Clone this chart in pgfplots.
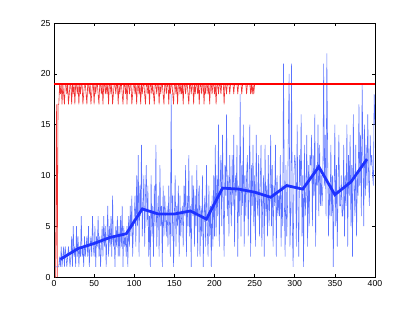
\documentclass[border=0pt]{standalone}
\usepackage{fontspec}
\setmainfont{Liberation Sans}
\usepackage{pgfplots}
\usepackage{pgfplotstable}
\pgfplotsset{compat=1.18}

% raw signal, one value per step (x = 1..400)
\pgfplotstableread[row sep=\\]{
y\\
1\\1\\1\\1\\1\\1\\2\\1\\3\\1\\2\\3\\1\\3\\2\\1\\2\\3\\2\\1\\
2\\4\\1\\5\\2\\3\\1\\5\\2\\4\\1\\3\\2\\6\\2\\3\\1\\4\\2\\3\\
4\\2\\5\\1\\3\\4\\2\\6\\3\\2\\5\\1\\4\\3\\6\\2\\4\\1\\3\\5\\
2\\6\\3\\5\\1\\4\\7\\2\\5\\3\\6\\2\\8\\3\\4\\1\\5\\3\\6\\2\\
5\\2\\6\\3\\7\\1\\5\\3\\4\\2\\5\\1\\6\\3\\7\\4\\8\\2\\5\\6\\
8\\3\\10\\5\\12\\2\\9\\6\\13\\4\\7\\10\\3\\8\\11\\5\\9\\2\\6\\1\\
10\\4\\7\\2\\9\\5\\13\\3\\6\\8\\2\\11\\5\\7\\1\\9\\4\\8\\6\\4\\
7\\3\\9\\5\\2\\18\\4\\8\\1\\6\\10\\3\\7\\5\\9\\2\\8\\4\\6\\7\\
3\\9\\6\\11\\2\\8\\5\\12\\4\\7\\1\\10\\6\\9\\3\\8\\5\\11\\2\\8\\
9\\2\\7\\4\\10\\1\\6\\8\\3\\11\\5\\2\\9\\4\\7\\1\\8\\3\\10\\4\\
13\\4\\10\\6\\15\\3\\9\\12\\5\\14\\7\\2\\11\\8\\16\\6\\10\\4\\12\\8\\
5\\12\\7\\14\\3\\10\\8\\13\\2\\9\\6\\18\\4\\11\\7\\15\\3\\10\\6\\10\\
12\\4\\9\\15\\2\\11\\7\\13\\5\\10\\3\\14\\8\\6\\12\\4\\9\\13\\3\\7\\
10\\2\\13\\6\\9\\4\\12\\5\\8\\14\\5\\11\\3\\9\\7\\13\\2\\10\\6\\8\\
6\\12\\3\\9\\5\\21\\8\\2\\11\\4\\7\\14\\20\\3\\6\\21\\5\\1\\10\\12\\
11\\3\\15\\7\\2\\12\\9\\16\\4\\10\\1\\13\\6\\8\\14\\3\\11\\5\\12\\11\\
14\\5\\12\\8\\16\\3\\11\\9\\15\\6\\13\\7\\10\\7\\9\\21\\9\\14\\6\\22\\
12\\4\\9\\6\\13\\6\\10\\1\\8\\15\\5\\11\\3\\9\\14\\7\\7\\10\\6\\6\\
13\\4\\10\\7\\15\\3\\12\\8\\14\\5\\11\\2\\16\\9\\6\\13\\4\\10\\8\\17\\
9\\14\\6\\19\\12\\5\\15\\8\\13\\9\\16\\10\\7\\14\\11\\12\\10\\9\\18\\15\\
}\bluedata

% second signal, x = 1..250
\pgfplotstableread[row sep=\\]{
y\\
0\\0\\17\\0\\17\\17\\
19\\18\\19\\17\\19\\18\\17\\19\\19\\18\\19\\17\\18\\19\\19\\17\\19\\18\\19\\17\\
19\\19\\18\\19\\17\\19\\18\\19\\19\\17\\18\\19\\19\\18\\17\\19\\19\\18\\19\\17\\
18\\19\\19\\17\\19\\18\\19\\19\\18\\17\\19\\19\\18\\19\\17\\19\\19\\18\\19\\18\\
19\\17\\19\\19\\18\\19\\17\\18\\19\\19\\18\\19\\19\\17\\19\\18\\19\\19\\18\\17\\
19\\19\\18\\19\\17\\19\\19\\18\\19\\19\\17\\18\\19\\19\\18\\19\\17\\19\\19\\18\\
19\\17\\19\\18\\19\\19\\18\\17\\19\\19\\18\\19\\17\\19\\19\\18\\19\\18\\17\\19\\
19\\18\\19\\19\\17\\19\\18\\19\\19\\18\\17\\19\\19\\18\\19\\19\\17\\19\\18\\19\\
19\\18\\17\\19\\19\\18\\19\\17\\19\\19\\18\\19\\18\\19\\17\\19\\19\\18\\19\\19\\
18\\17\\19\\19\\18\\19\\19\\17\\19\\18\\19\\19\\18\\19\\17\\19\\19\\18\\19\\19\\
17\\19\\18\\19\\19\\18\\19\\17\\19\\19\\18\\19\\19\\18\\19\\17\\19\\19\\18\\19\\
19\\18\\19\\19\\19\\17\\19\\19\\18\\19\\19\\19\\18\\19\\19\\19\\19\\18\\19\\19\\
19\\19\\18\\19\\19\\19\\19\\18\\19\\19\\19\\19\\19\\18\\19\\19\\19\\19\\18\\19\\
18\\19\\18\\19\\
}\reddata

\definecolor{thinblue}{RGB}{90,115,255}
\definecolor{thinred}{RGB}{240,50,50}
\definecolor{thickblue}{RGB}{30,50,255}

\begin{document}
\begin{tikzpicture}
\path[use as bounding box] (0,0) rectangle (4.15in,3.13in);
\begin{axis}[
  at={(0.54in,0.36in)}, anchor=south west,
  scale only axis, width=3.21in, height=2.54in,
  xmin=0, xmax=400, ymin=0, ymax=25,
  xtick={0,50,...,400}, ytick={0,5,...,25},
  xtick pos=both, ytick pos=both, tick align=inside,
  major tick length=2.5pt,
  tick style={black, line width=0.4pt},
  axis line style={line width=0.5pt},
  tick label style={font=\fontsize{6.3}{7}\selectfont},
  /pgf/number format/assume math mode=true,
  xticklabel style={yshift=1pt},
  yticklabel style={xshift=1pt},
]
\addplot[thinred, line width=0.45pt] table[x expr=\coordindex+1, y=y] {\reddata};
\addplot[thinblue, line width=0.4pt] table[x expr=\coordindex+1, y=y] {\bluedata};
\addplot[thickblue, line width=2pt] coordinates {
  (8,1.75) (30,2.8) (50,3.3) (70,3.9) (90,4.25) (110,6.7) (130,6.2)
  (150,6.2) (170,6.5) (190,5.7) (210,8.75) (230,8.65) (250,8.35)
  (270,7.85) (290,9.0) (310,8.65) (330,10.85) (350,8.1) (370,9.35) (390,11.6)
};
\addplot[red, line width=1.3pt] coordinates {(0,19) (400,19)};
\end{axis}
\end{tikzpicture}
\end{document}
